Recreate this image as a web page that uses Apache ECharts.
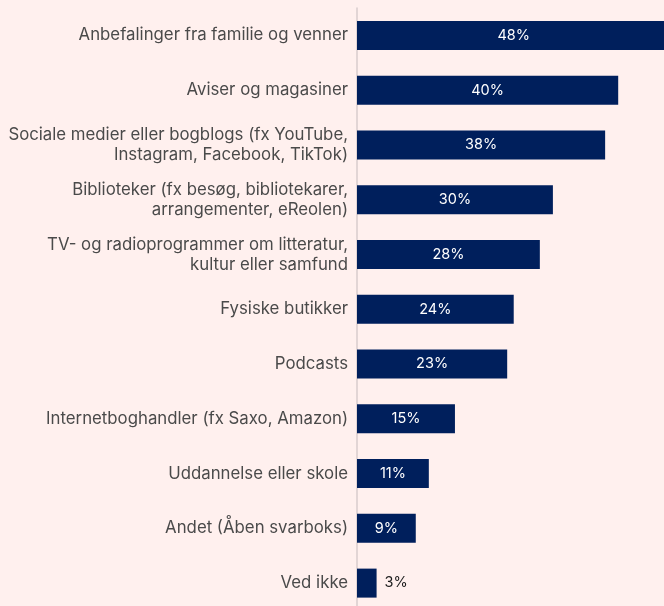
<!DOCTYPE html>
<html><head><meta charset="utf-8">
<script src="https://cdn.jsdelivr.net/npm/echarts@6/dist/echarts.min.js"></script>
<style>html,body{margin:0;padding:0;background:#fff0ee;}#c{width:664px;height:606px;}</style>
</head><body><div id="c"></div>
<script>
const categories = [
  "Anbefalinger fra familie og venner",
  "Aviser og magasiner",
  "Sociale medier eller bogblogs (fx YouTube,\nInstagram, Facebook, TikTok)",
  "Biblioteker (fx besøg, bibliotekarer,\narrangementer, eReolen)",
  "TV- og radioprogrammer om litteratur,\nkultur eller samfund",
  "Fysiske butikker",
  "Podcasts",
  "Internetboghandler (fx Saxo, Amazon)",
  "Uddannelse eller skole",
  "Andet (Åben svarboks)",
  "Ved ikke"
];
const values = [48, 40, 38, 30, 28, 24, 23, 15, 11, 9, 3];
const FONT = "Inter";
const chart = echarts.init(document.getElementById('c'));
chart.setOption({
  backgroundColor: '#fff0ee',
  animation: false,
  grid: {left: 357, top: 8, width: 326.5, height: 602.5, outerBoundsMode: 'none', containLabel: false},
  xAxis: {type: 'value', min: 0, max: 50, show: false},
  yAxis: {
    type: 'category', data: categories, inverse: true,
    axisLine: {show: true, lineStyle: {color: '#d8cccc', width: 1.5}},
    axisTick: {show: false},
    axisLabel: {color: '#4a4a4a', fontSize: 16.8, fontFamily: FONT, margin: 9, lineHeight: 20, align: 'right'}
  },
  series: [{
    type: 'bar', barWidth: 29,
    data: values.map((v, i) => ({
      value: v,
      label: v < 5 ? {position: 'right', color: '#1a1a1a', distance: 8} : {}
    })),
    itemStyle: {color: '#001f5c'},
    label: {show: true, position: 'inside', color: '#ffffff', fontSize: 14.5, fontFamily: FONT, formatter: '{c}%'}
  }]
});
</script></body></html>
